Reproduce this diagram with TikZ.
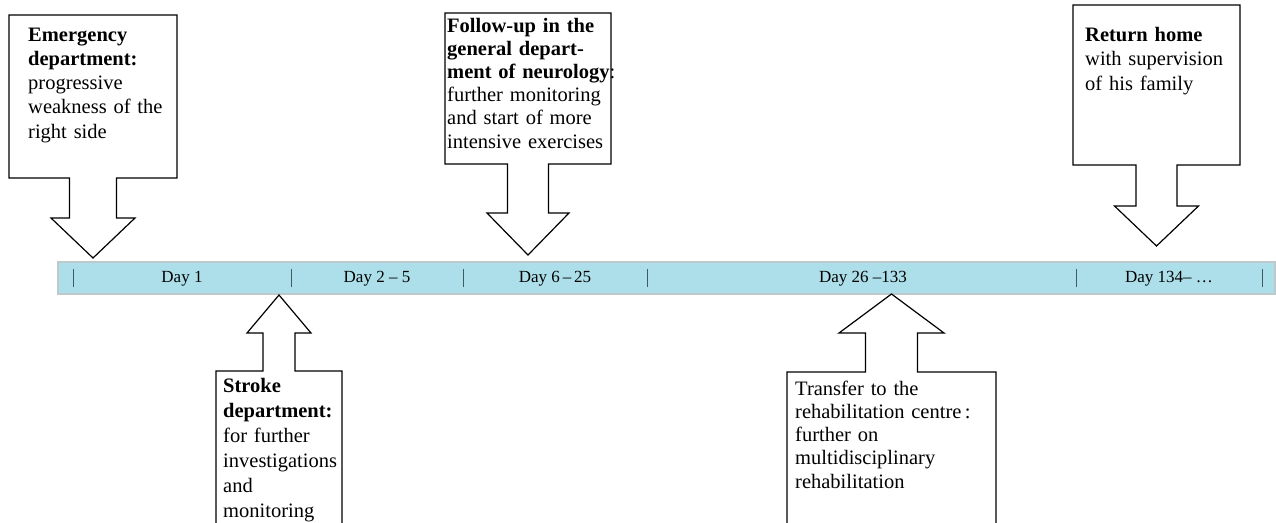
\documentclass[tikz,border=0pt]{standalone}
\usepackage{fontspec}
\setmainfont{Liberation Serif}
\usepackage{xcolor}
\usepackage{tikz}
\usetikzlibrary{positioning,calc}

\definecolor{barblue}{HTML}{ADDFEB}
\definecolor{barline}{HTML}{BDC9CB}
\definecolor{tickgray}{HTML}{3F5B61}

\tikzset{
  callout/.style={draw=black,line width=1.2pt,fill=white,line join=miter},
  note/.style={anchor=base west,inner sep=0pt,align=left,text width=230pt,
    font=\fontsize{20.5}{#1}\selectfont},
  daylabel/.style={font=\fontsize{17}{20}\selectfont,inner sep=0pt},
}

\begin{document}
\begin{tikzpicture}[x=1pt,y=-1pt]
\useasboundingbox (0,0) rectangle (1276,522);
\clip (0,0) rectangle (1276,522);

% timeline bar
\draw[fill=barblue,draw=barline,line width=2pt] (58,262) rectangle (1275,294);
\foreach \x in {73,291,463,647,1076,1262}
  \draw[tickgray,line width=1pt] (\x,269) -- (\x,287);
\foreach \x/\day/\name in {182/Day 1/one, 377/Day 2 – 5/two, 555/Day 6\,–\,25/six,
    863/Day 26 –133/twentysix, 1169/Day 134– \ldots/home}
  \node[daylabel] (day\name) at (\x,279) {\day};

% callout arrows
\foreach \l/\r/\f/\n/\c/\s/\h/\w/\p in {
    9/177/15/178/93/23.5/218/42/258,
    216/342/540/371/279/16/333/32/295,
    445/611/13/164/528/20.5/213/41/255,
    787/996/540/372/891.5/26/333/52.5/294,
    1073/1240/5/165/1156.5/20.5/206/42/246
} {
  \draw[callout] (\l,\f) -- (\r,\f) -- (\r,\n) -- (\c+\s,\n) -- (\c+\s,\h)
    -- (\c+\w,\h) -- (\c,\p) -- (\c-\w,\h) -- (\c-\s,\h) -- (\c-\s,\n)
    -- (\l,\n) -- cycle;
}

\node[note=24.25pt] (emergency) at (28,41) {\textbf{Emergency}\\ \textbf{department:}\\
  progressive\\ weakness of the\\ right side};
\node[note=25pt] (stroke) at (223,392) {\textbf{Stroke}\\ \textbf{department:}\\
  for further\\ investigations\\ and\\ monitoring};
\node[note=23.2pt] (followup) at (447,32) {\textbf{Follow-up in the}\\
  \textbf{general depart-}\\ \textbf{ment of neurology}:\\ further monitoring\\
  and start of more\\ intensive exercises};
\node[note=23.3pt] (transfer) at (795,395) {Transfer to the\\
  rehabilitation centre\,:\\ further on\\ multidisciplinary\\ rehabilitation};
\node[note=24.5pt] (returnhome) at (1085,41) {\textbf{Return home}\\
  with supervision\\ of his family};
\end{tikzpicture}
\end{document}
